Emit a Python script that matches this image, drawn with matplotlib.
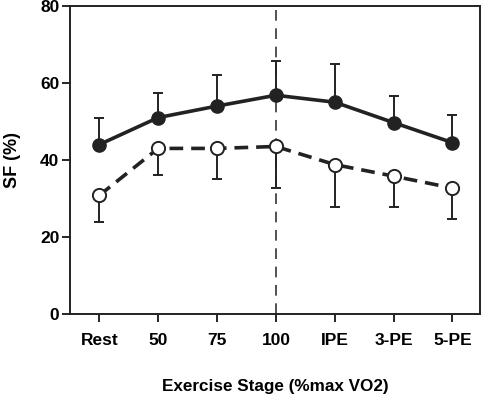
import numpy as np
import matplotlib.pyplot as plt

plt.rcParams['font.family'] = ['Liberation Sans', 'DejaVu Sans']
plt.rcParams['font.weight'] = 'bold'

stages = ['Rest', '50', '75', '100', 'IPE', '3-PE', '5-PE']
filled_mean = [44, 51, 54, 56.8, 55, 49.7, 44.5]
filled_err = [7, 6.5, 8, 9, 10, 7, 7.3]
open_mean = [30.8, 43, 43, 43.5, 38.8, 35.8, 32.7]
open_err = [7, 7, 8, 10.7, 11, 8, 8]

x = np.arange(len(stages))

fig = plt.figure(figsize=(4.85, 3.94), dpi=100)
ax = fig.add_axes([0.144, 0.203, 0.846, 0.782])

ax.axvline(3, color='#222', lw=1.1, ls=(0, (7, 5)), zorder=1)

ax.errorbar(x, filled_mean, yerr=[np.zeros(len(x)), filled_err], fmt='none',
            ecolor='#222', elinewidth=1.4, capsize=3.5, capthick=1.4, zorder=2)
ax.errorbar(x, open_mean, yerr=[open_err, np.zeros(len(x))], fmt='none',
            ecolor='#222', elinewidth=1.4, capsize=3.5, capthick=1.4, zorder=2)

ax.plot(x, filled_mean, '-o', color='#222', lw=2.6, ms=9.5,
        mfc='#222', mec='#222', zorder=3)
ax.plot(x, open_mean, 'o', color='#222', lw=2.6, ls=(0, (3.8, 2.2)), ms=9.5,
        mfc='white', mec='#222', mew=1.4, zorder=3)

ax.set_xlim(-0.5, 6.47)
ax.set_ylim(0, 80)
ax.set_yticks([0, 20, 40, 60, 80])
ax.set_xticks(x)
ax.set_xticklabels(stages)
ax.tick_params(direction='out', length=6, width=1.2, labelsize=12.5)
ax.tick_params(axis='y', pad=1.5)
ax.tick_params(axis='x', pad=8)
for s in ax.spines.values():
    s.set_linewidth(1.4)
    s.set_color('#222')

ax.set_ylabel('SF (%)', fontsize=13, fontweight='bold', labelpad=14)
ax.set_xlabel('Exercise Stage (%max VO2)', fontsize=12.3, fontweight='bold', labelpad=22)

fig.savefig('out.png', dpi=100)
